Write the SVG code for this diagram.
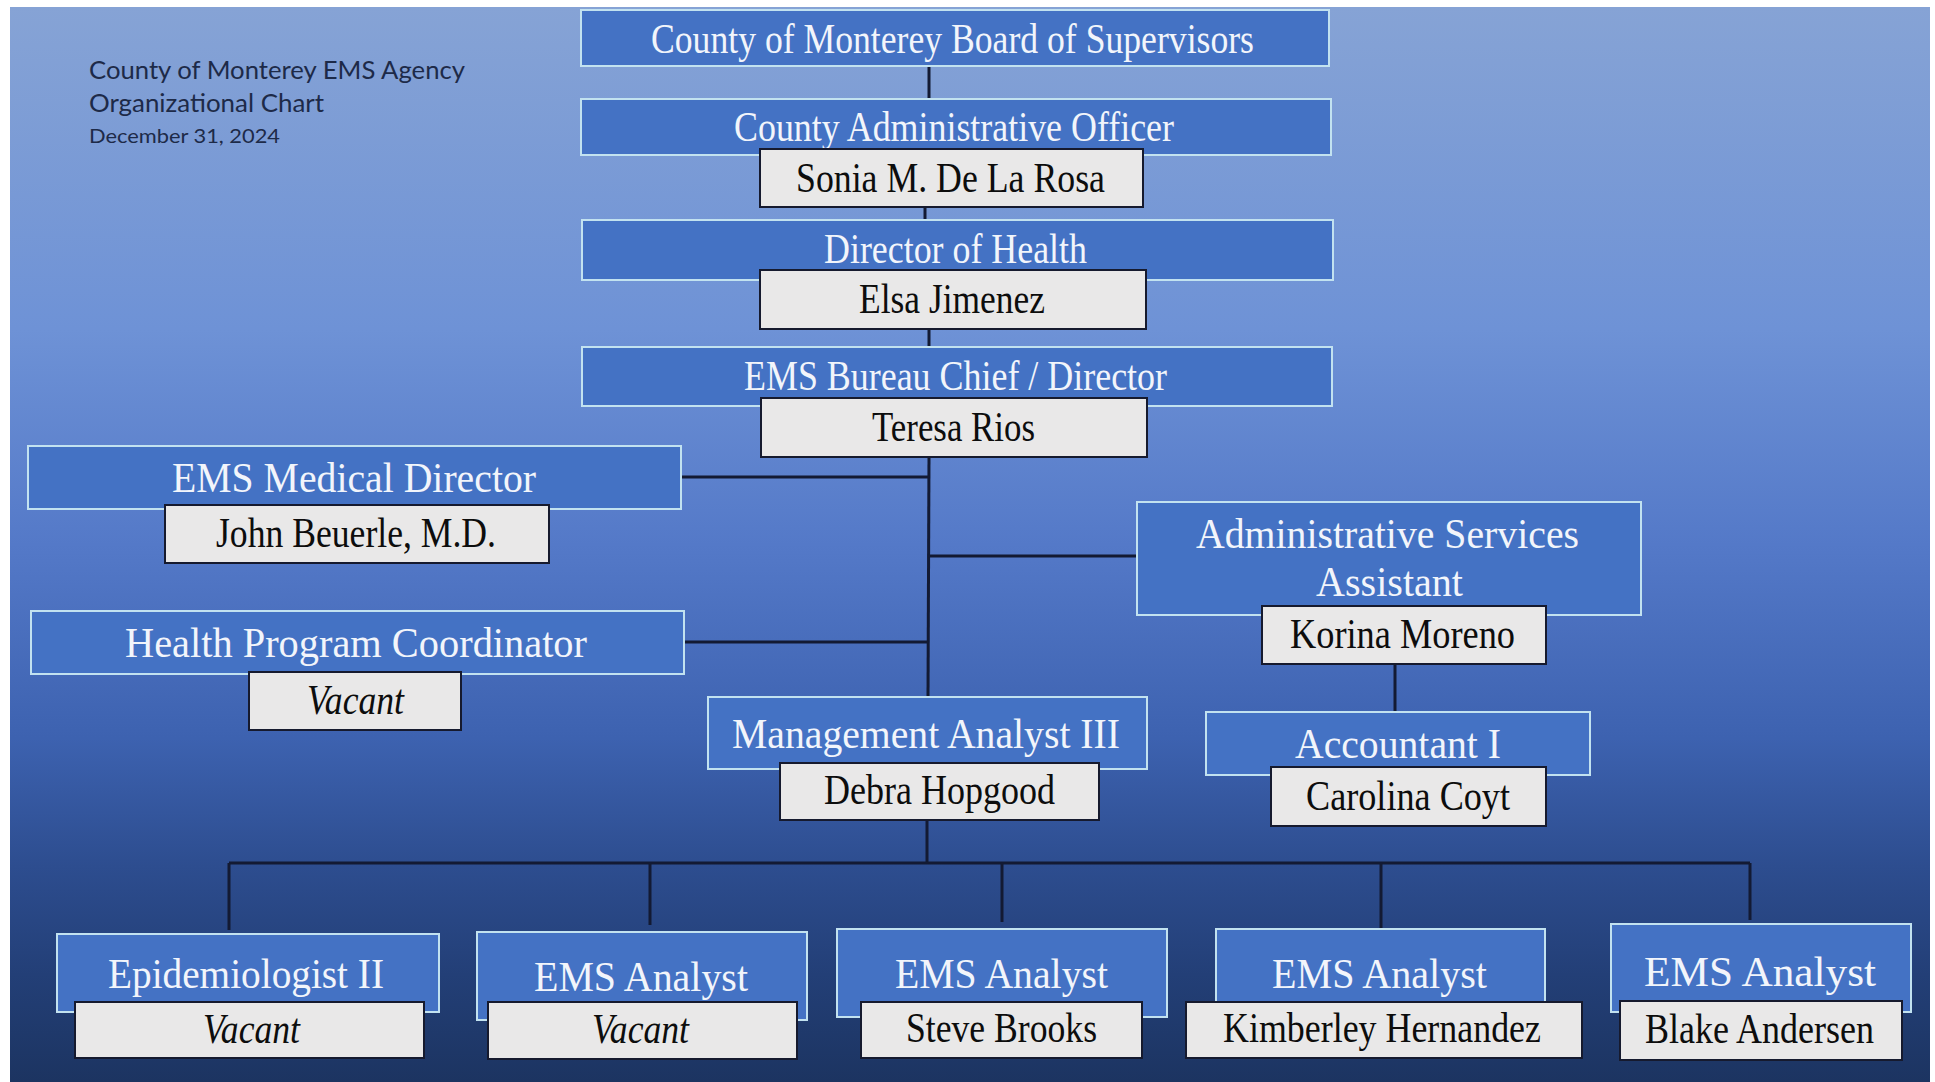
<svg xmlns="http://www.w3.org/2000/svg" width="1935" height="1082" viewBox="0 0 1935 1082">
<defs>
<linearGradient id="bg" x1="0" y1="0" x2="0" y2="1">
<stop offset="0" stop-color="#86a3d5"/>
<stop offset="0.3" stop-color="#6e92d6"/>
<stop offset="0.5" stop-color="#5479c8"/>
<stop offset="0.68" stop-color="#3d62b0"/>
<stop offset="0.8" stop-color="#2d4d8f"/>
<stop offset="0.9" stop-color="#233f77"/>
<stop offset="1" stop-color="#1c3461"/>
</linearGradient>
<style>
.t{fill:#4472c4;stroke:#c2e2f0;stroke-width:2}
.n{fill:#e9e8e8;stroke:#161a2e;stroke-width:2}
.tt{font-family:"Liberation Serif","Times New Roman",serif;font-size:42px;fill:#f2f5fb}
.nt{font-family:"Liberation Serif","Times New Roman",serif;font-size:42px;fill:#0d0d0d}
.it{font-style:italic}
.hd{font-family:Lato,"Liberation Sans",sans-serif;fill:#1d2a48}
.c{stroke:#131a33;stroke-width:3;fill:none}
</style>
</defs>
<rect width="1935" height="1082" fill="#ffffff"/>
<rect x="10" y="7" width="1920" height="1075" fill="url(#bg)"/>
<g id="heading">
<text class="hd" x="89" y="79" font-size="25" textLength="376" lengthAdjust="spacingAndGlyphs">County of Monterey EMS Agency</text>
<text class="hd" x="89" y="112" font-size="25" textLength="235" lengthAdjust="spacingAndGlyphs">Organizational Chart</text>
<text class="hd" x="89" y="143" font-size="20" textLength="191" lengthAdjust="spacingAndGlyphs">December 31, 2024</text>
</g>
<g id="connectors">
<line class="c" x1="929" y1="66" x2="929" y2="99"/>
<line class="c" x1="925" y1="207" x2="925" y2="220"/>
<line class="c" x1="929" y1="329" x2="929" y2="347"/>
<line class="c" x1="929" y1="457" x2="928" y2="697"/>
<line class="c" x1="681" y1="477" x2="929" y2="477"/>
<line class="c" x1="928" y1="556" x2="1137" y2="556"/>
<line class="c" x1="684" y1="642" x2="928" y2="642"/>
<line class="c" x1="1395" y1="664" x2="1395" y2="712"/>
<line class="c" x1="927" y1="820" x2="927" y2="863"/>
<line class="c" x1="229" y1="863" x2="1750" y2="863"/>
<line class="c" x1="229" y1="863" x2="229" y2="930"/>
<line class="c" x1="650" y1="863" x2="650" y2="925"/>
<line class="c" x1="1002" y1="863" x2="1002" y2="922"/>
<line class="c" x1="1381" y1="863" x2="1381" y2="929"/>
<line class="c" x1="1750" y1="863" x2="1750" y2="920"/>
</g>
<g id="board">
<rect class="t" x="581" y="10" width="748" height="56"/>
<text class="tt" x="651" y="53" textLength="603" lengthAdjust="spacingAndGlyphs">County of Monterey Board of Supervisors</text>
</g>
<g id="cao">
<rect class="t" x="581" y="99" width="750" height="56"/>
<text class="tt" x="734" y="141" textLength="440" lengthAdjust="spacingAndGlyphs">County Administrative Officer</text>
<rect class="n" x="760" y="149" width="383" height="58"/>
<text class="nt" x="796" y="192" textLength="309" lengthAdjust="spacingAndGlyphs">Sonia M. De La Rosa</text>
</g>
<g id="director-health">
<rect class="t" x="582" y="220" width="751" height="60"/>
<text class="tt" x="824" y="263" textLength="263" lengthAdjust="spacingAndGlyphs">Director of Health</text>
<rect class="n" x="760" y="270" width="386" height="59"/>
<text class="nt" x="859" y="313" textLength="186" lengthAdjust="spacingAndGlyphs">Elsa Jimenez</text>
</g>
<g id="bureau-chief">
<rect class="t" x="582" y="347" width="750" height="59"/>
<text class="tt" x="744" y="390" textLength="423" lengthAdjust="spacingAndGlyphs">EMS Bureau Chief / Director</text>
<rect class="n" x="761" y="398" width="386" height="59"/>
<text class="nt" x="872" y="441" textLength="163" lengthAdjust="spacingAndGlyphs">Teresa Rios</text>
</g>
<g id="medical-director">
<rect class="t" x="28" y="446" width="653" height="63"/>
<text class="tt" x="172" y="492" textLength="364" lengthAdjust="spacingAndGlyphs">EMS Medical Director</text>
<rect class="n" x="165" y="505" width="384" height="58"/>
<text class="nt" x="216" y="547" textLength="280" lengthAdjust="spacingAndGlyphs">John Beuerle, M.D.</text>
</g>
<g id="health-program-coordinator">
<rect class="t" x="31" y="611" width="653" height="63"/>
<text class="tt" x="125" y="657" textLength="462" lengthAdjust="spacingAndGlyphs">Health Program Coordinator</text>
<rect class="n" x="249" y="672" width="212" height="58"/>
<text class="nt it" x="307" y="714" textLength="97" lengthAdjust="spacingAndGlyphs">Vacant</text>
</g>
<g id="admin-services-assistant">
<rect class="t" x="1137" y="502" width="504" height="113"/>
<text class="tt" x="1196" y="548" textLength="383" lengthAdjust="spacingAndGlyphs">Administrative Services</text>
<text class="tt" x="1316" y="596" textLength="147" lengthAdjust="spacingAndGlyphs">Assistant</text>
<rect class="n" x="1262" y="606" width="284" height="58"/>
<text class="nt" x="1290" y="648" textLength="225" lengthAdjust="spacingAndGlyphs">Korina Moreno</text>
</g>
<g id="management-analyst">
<rect class="t" x="708" y="697" width="439" height="72"/>
<text class="tt" x="732" y="748" textLength="388" lengthAdjust="spacingAndGlyphs">Management Analyst III</text>
<rect class="n" x="780" y="763" width="319" height="57"/>
<text class="nt" x="824" y="804" textLength="231" lengthAdjust="spacingAndGlyphs">Debra Hopgood</text>
</g>
<g id="accountant">
<rect class="t" x="1206" y="712" width="384" height="63"/>
<text class="tt" x="1295" y="758" textLength="206" lengthAdjust="spacingAndGlyphs">Accountant I</text>
<rect class="n" x="1271" y="767" width="275" height="59"/>
<text class="nt" x="1306" y="810" textLength="204" lengthAdjust="spacingAndGlyphs">Carolina Coyt</text>
</g>
<g id="epidemiologist">
<rect class="t" x="57" y="934" width="382" height="78"/>
<text class="tt" x="108" y="988" textLength="276" lengthAdjust="spacingAndGlyphs">Epidemiologist II</text>
<rect class="n" x="75" y="1002" width="349" height="56"/>
<text class="nt it" x="203" y="1043" textLength="97" lengthAdjust="spacingAndGlyphs">Vacant</text>
</g>
<g id="ems-analyst-1">
<rect class="t" x="477" y="932" width="330" height="88"/>
<text class="tt" x="534" y="991" textLength="214" lengthAdjust="spacingAndGlyphs">EMS Analyst</text>
<rect class="n" x="488" y="1002" width="309" height="57"/>
<text class="nt it" x="592" y="1043" textLength="97" lengthAdjust="spacingAndGlyphs">Vacant</text>
</g>
<g id="ems-analyst-2">
<rect class="t" x="837" y="929" width="330" height="88"/>
<text class="tt" x="895" y="988" textLength="213" lengthAdjust="spacingAndGlyphs">EMS Analyst</text>
<rect class="n" x="861" y="1002" width="281" height="56"/>
<text class="nt" x="906" y="1042" textLength="191" lengthAdjust="spacingAndGlyphs">Steve Brooks</text>
</g>
<g id="ems-analyst-3">
<rect class="t" x="1216" y="929" width="329" height="80"/>
<text class="tt" x="1272" y="988" textLength="215" lengthAdjust="spacingAndGlyphs">EMS Analyst</text>
<rect class="n" x="1186" y="1002" width="396" height="56"/>
<text class="nt" x="1223" y="1042" textLength="318" lengthAdjust="spacingAndGlyphs">Kimberley Hernandez</text>
</g>
<g id="ems-analyst-4">
<rect class="t" x="1611" y="924" width="300" height="88"/>
<text class="tt" x="1644" y="986" font-size="48" textLength="232" lengthAdjust="spacingAndGlyphs">EMS Analyst</text>
<rect class="n" x="1620" y="1001" width="282" height="59"/>
<text class="nt" x="1645" y="1043" textLength="229" lengthAdjust="spacingAndGlyphs">Blake Andersen</text>
</g>
</svg>
